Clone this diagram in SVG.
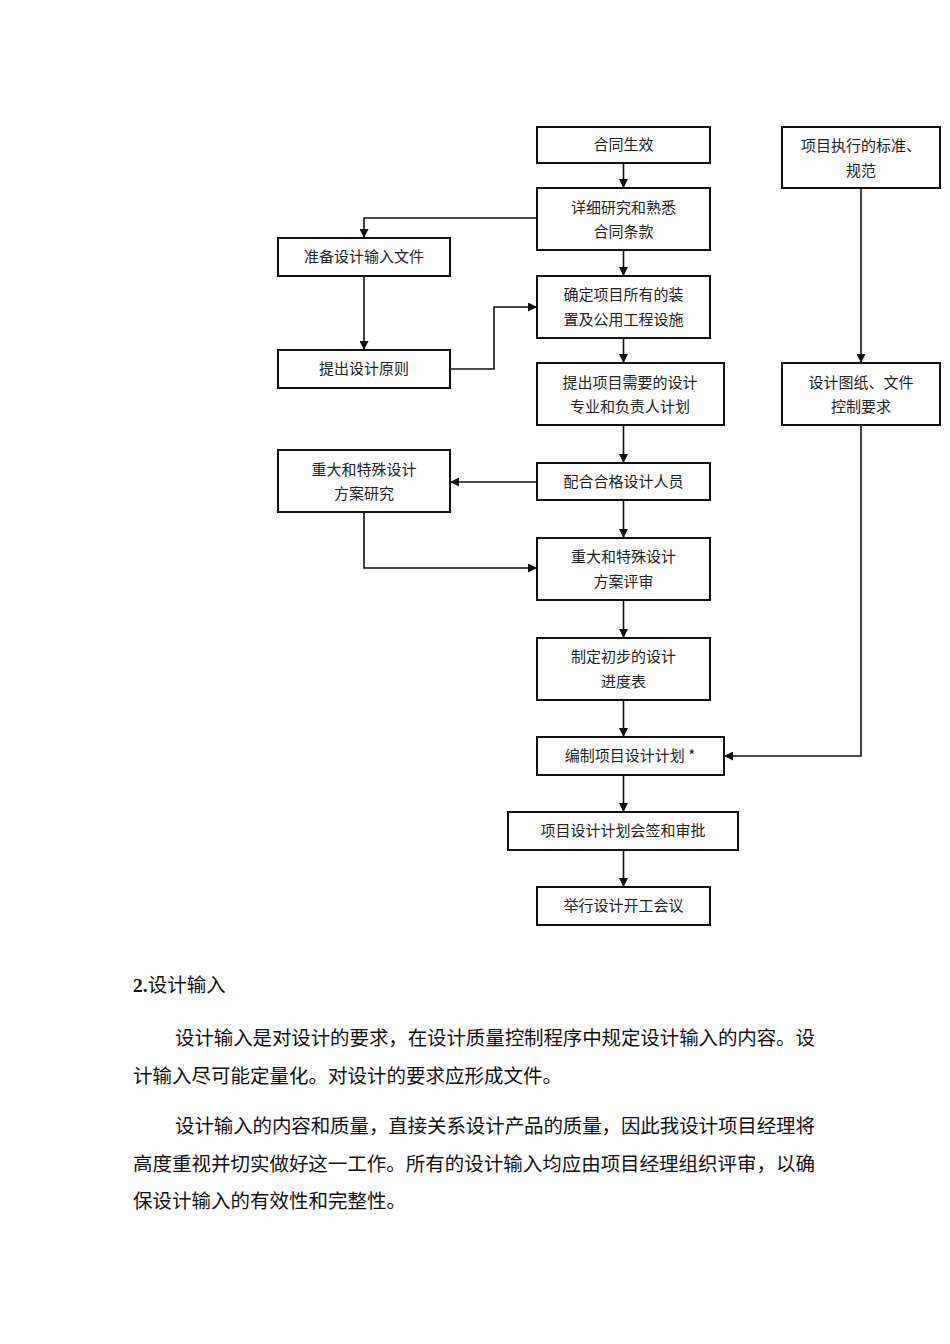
<svg xmlns="http://www.w3.org/2000/svg" width="950" height="1344" viewBox="0 0 950 1344">
<style>
.b{fill:#fff;stroke:#111;stroke-width:2}
.t{font-family:"Noto Sans CJK SC","Liberation Sans",sans-serif;font-size:15px;fill:#222;text-anchor:middle}
.c{fill:none;stroke:#111;stroke-width:1.6}
.p{font-family:"Liberation Serif","Noto Sans CJK SC",serif;font-size:19.5px;fill:#111}
</style>
<defs><marker id="a" viewBox="0 0 10 10" refX="10" refY="5" markerWidth="10" markerHeight="9" markerUnits="userSpaceOnUse" orient="auto"><path d="M0,0L10,5L0,10z" fill="#111"/></marker></defs>
<rect width="950" height="1344" fill="#fff"/>
<g id="connectors">
<path class="c" marker-end="url(#a)" d="M623.5,163V188"/>
<path class="c" marker-end="url(#a)" d="M537,218H364V238"/>
<path class="c" marker-end="url(#a)" d="M623.5,250V276"/>
<path class="c" marker-end="url(#a)" d="M364,276V350"/>
<path class="c" marker-end="url(#a)" d="M450,369H494V307H537"/>
<path class="c" marker-end="url(#a)" d="M623.5,338V363"/>
<path class="c" marker-end="url(#a)" d="M623.5,425V463"/>
<path class="c" marker-end="url(#a)" d="M537,482H450"/>
<path class="c" marker-end="url(#a)" d="M623.5,500V538"/>
<path class="c" marker-end="url(#a)" d="M364,512V568H537"/>
<path class="c" marker-end="url(#a)" d="M623.5,600V638"/>
<path class="c" marker-end="url(#a)" d="M623.5,700V737"/>
<path class="c" marker-end="url(#a)" d="M623.5,775V812"/>
<path class="c" marker-end="url(#a)" d="M623.5,850V887"/>
<path class="c" marker-end="url(#a)" d="M861,188V363"/>
<path class="c" marker-end="url(#a)" d="M861,425V756H724"/>
</g>
<g id="n1"><rect class="b" x="537" y="127" width="173" height="36"/><text class="t" x="623.5" y="150">合同生效</text></g>
<g id="n2"><rect class="b" x="537" y="188" width="173" height="62"/><text class="t" x="623.5" y="213">详细研究和熟悉</text><text class="t" x="623.5" y="237">合同条款</text></g>
<g id="n3"><rect class="b" x="278" y="238" width="172" height="38"/><text class="t" x="364" y="262">准备设计输入文件</text></g>
<g id="n4"><rect class="b" x="537" y="276" width="173" height="62"/><text class="t" x="623.5" y="300">确定项目所有的装</text><text class="t" x="623.5" y="325">置及公用工程设施</text></g>
<g id="n5"><rect class="b" x="278" y="350" width="172" height="38"/><text class="t" x="364" y="374">提出设计原则</text></g>
<g id="n6"><rect class="b" x="537" y="363" width="187" height="62"/><text class="t" x="630" y="388">提出项目需要的设计</text><text class="t" x="630" y="412">专业和负责人计划</text></g>
<g id="n7"><rect class="b" x="782" y="127" width="158" height="61"/><text class="t" x="861" y="151">项目执行的标准、</text><text class="t" x="861" y="176">规范</text></g>
<g id="n8"><rect class="b" x="782" y="363" width="158" height="62"/><text class="t" x="861" y="388">设计图纸、文件</text><text class="t" x="861" y="412">控制要求</text></g>
<g id="n9"><rect class="b" x="537" y="463" width="173" height="37"/><text class="t" x="623.5" y="487">配合合格设计人员</text></g>
<g id="n10"><rect class="b" x="278" y="450" width="172" height="62"/><text class="t" x="364" y="475">重大和特殊设计</text><text class="t" x="364" y="499">方案研究</text></g>
<g id="n11"><rect class="b" x="537" y="538" width="173" height="62"/><text class="t" x="623.5" y="562">重大和特殊设计</text><text class="t" x="623.5" y="587">方案评审</text></g>
<g id="n12"><rect class="b" x="537" y="638" width="173" height="62"/><text class="t" x="623.5" y="662">制定初步的设计</text><text class="t" x="623.5" y="687">进度表</text></g>
<g id="n13"><rect class="b" x="537" y="737" width="187" height="38"/><text class="t" x="630" y="761">编制项目设计计划 *</text></g>
<g id="n14"><rect class="b" x="508" y="812" width="230" height="38"/><text class="t" x="623" y="836">项目设计计划会签和审批</text></g>
<g id="n15"><rect class="b" x="537" y="887" width="173" height="38"/><text class="t" x="623.5" y="911">举行设计开工会议</text></g>
<text class="p" x="133" y="992"><tspan font-weight="bold">2.</tspan>设计输入</text>
<text class="p" x="175" y="1045" textLength="640" lengthAdjust="spacing">设计输入是对设计的要求，在设计质量控制程序中规定设计输入的内容。设</text>
<text class="p" x="133" y="1083">计输入尽可能定量化。对设计的要求应形成文件。</text>
<text class="p" x="175" y="1133" textLength="640" lengthAdjust="spacing">设计输入的内容和质量，直接关系设计产品的质量，因此我设计项目经理将</text>
<text class="p" x="133" y="1171" textLength="682" lengthAdjust="spacing">高度重视并切实做好这一工作。所有的设计输入均应由项目经理组织评审，以确</text>
<text class="p" x="133" y="1208">保设计输入的有效性和完整性。</text>
</svg>
